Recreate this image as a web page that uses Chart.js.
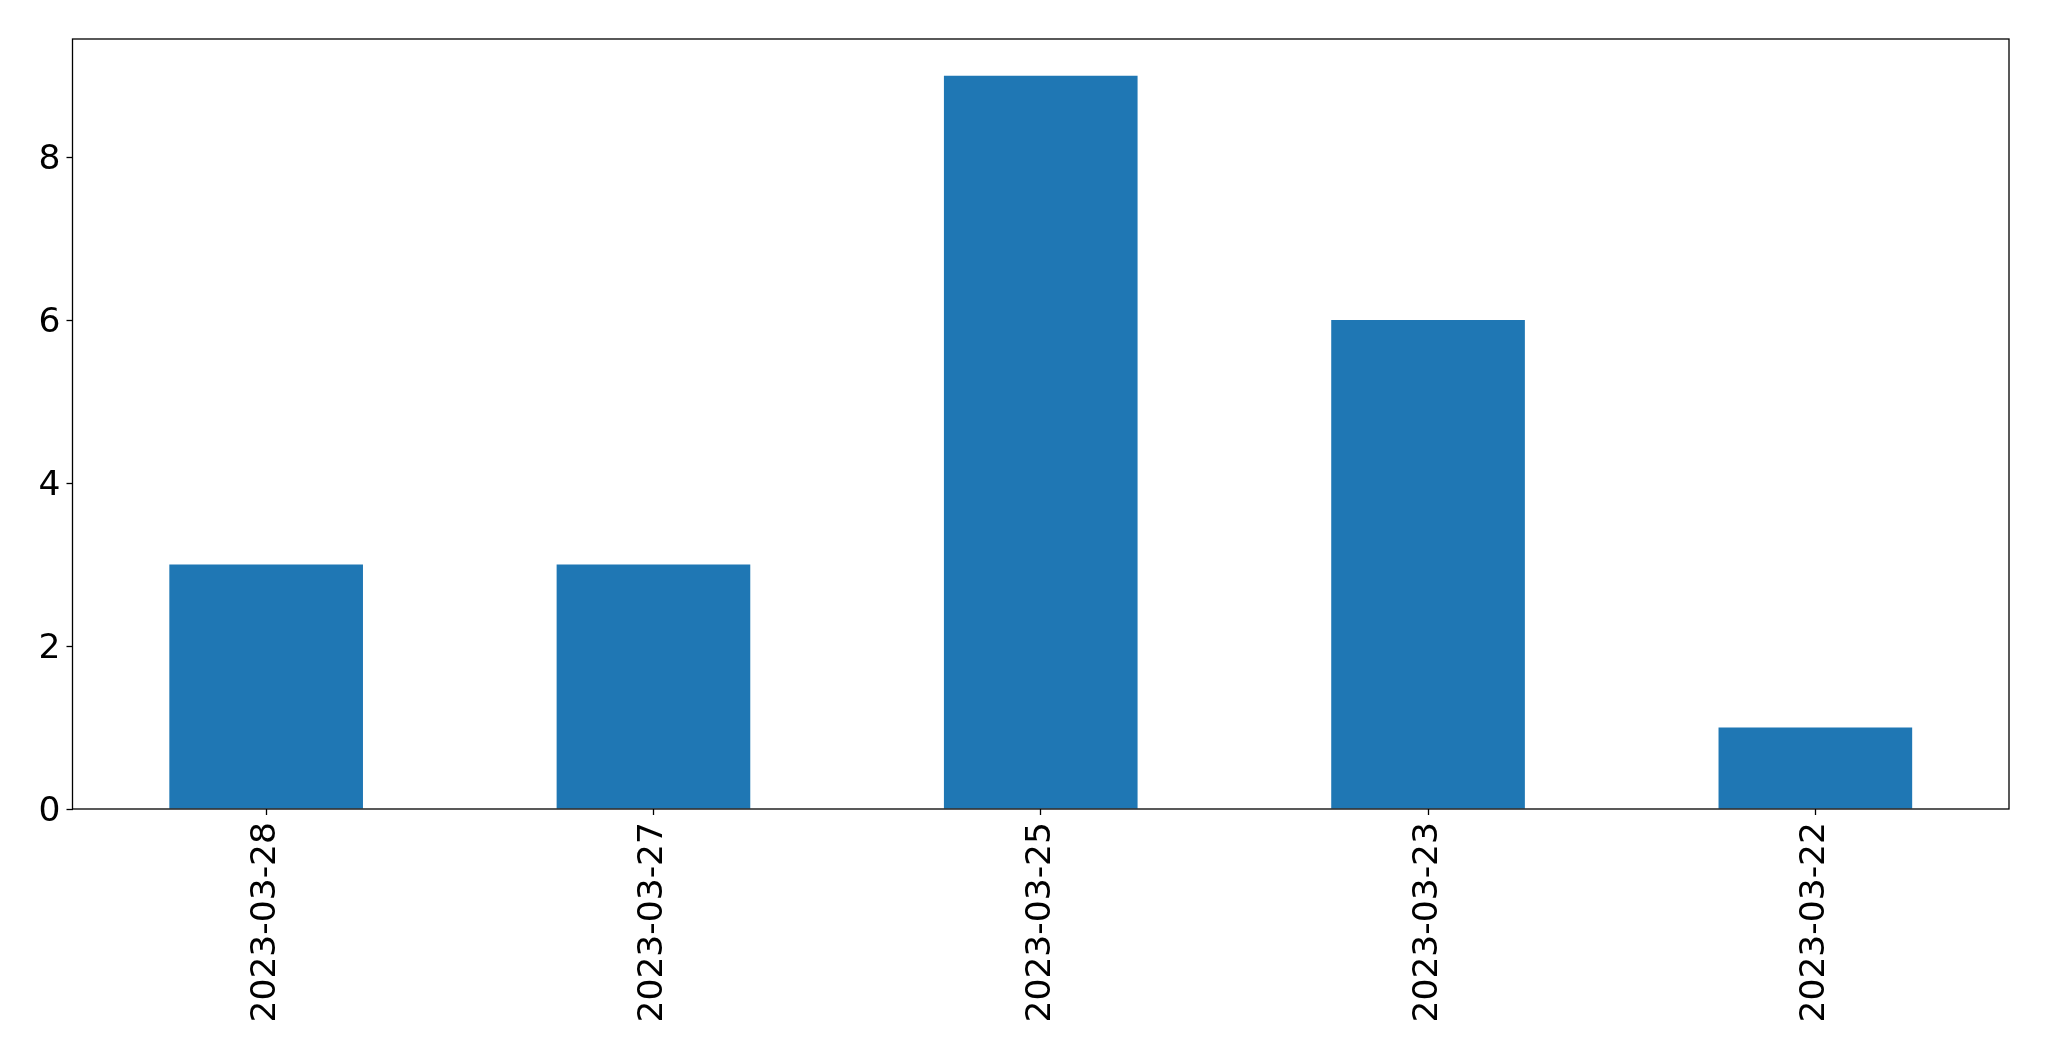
<!DOCTYPE html>
<html>
<head>
<meta charset="utf-8">
<script src="https://cdn.jsdelivr.net/npm/chart.js@4.4.0/dist/chart.umd.min.js"></script>
<style>
html,body{margin:0;padding:0;background:#fff;}
#wrap{width:2049px;height:1061px;}
</style>
</head>
<body>
<div id="wrap"><canvas id="c" width="2049" height="1061"></canvas></div>
<script>
const categories = ["2023-03-28", "2023-03-27", "2023-03-25", "2023-03-23", "2023-03-22"];
const values = [3, 3, 9, 6, 1];
const yTicks = [0, 2, 4, 6, 8];
const yMax = 9.45;

const framePlugin = {
  id: 'frame',
  afterDraw(chart) {
    const a = chart.chartArea, ctx = chart.ctx;
    ctx.save();
    ctx.strokeStyle = '#000';
    ctx.lineWidth = 1.3;
    ctx.strokeRect(a.left, a.top, a.right - a.left, a.bottom - a.top);
    ctx.restore();
  }
};

new Chart(document.getElementById('c'), {
  type: 'bar',
  data: {
    labels: categories,
    datasets: [{
      data: values,
      backgroundColor: '#1f77b4',
      borderWidth: 0,
      categoryPercentage: 1.0,
      barPercentage: 0.5
    }]
  },
  options: {
    responsive: false,
    animation: false,
    devicePixelRatio: 1,
    layout: { padding: { top: 39, right: 40, left: 0, bottom: 0 } },
    plugins: { legend: { display: false }, tooltip: { enabled: false } },
    scales: {
      x: {
        offset: true,
        grid: { display: true, drawOnChartArea: false, tickLength: 6, tickColor: '#000', tickWidth: 1.3, offset: false },
        border: { display: false },
        ticks: {
          maxRotation: 90, minRotation: 90, autoSkip: false,
          color: '#000', padding: 7,
          font: { family: 'DejaVu Sans', size: 34.5 }
        },
        afterFit(s) { s.height = 252; }
      },
      y: {
        min: 0, max: yMax,
        grid: { display: true, drawOnChartArea: false, tickLength: 6, tickColor: '#000', tickWidth: 1.3 },
        border: { display: false },
        afterBuildTicks(s) { s.ticks = yTicks.map(v => ({ value: v })); },
        ticks: {
          color: '#000', padding: 6, labelOffset: 3,
          font: { family: 'DejaVu Sans', size: 34.5 }
        },
        afterFit(s) { s.width = 72.5; }
      }
    }
  },
  plugins: [framePlugin]
});
</script>
</body>
</html>
